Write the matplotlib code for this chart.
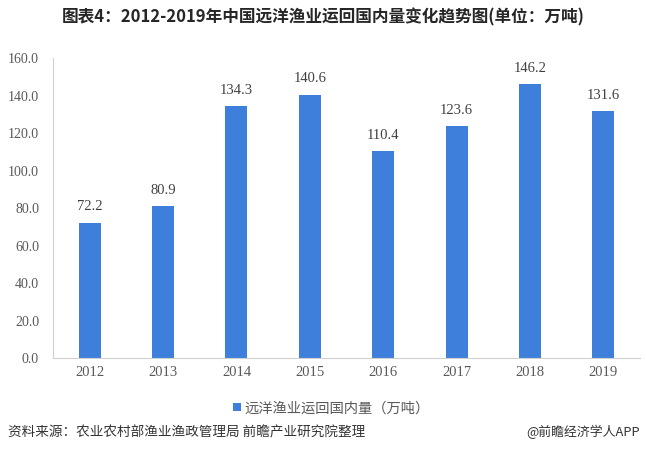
import matplotlib.pyplot as plt
from matplotlib.patches import Patch

years = ["2012", "2013", "2014", "2015", "2016", "2017", "2018", "2019"]
volume = [72.2, 80.9, 134.3, 140.6, 110.4, 123.6, 146.2, 131.6]
yticks = [0, 20, 40, 60, 80, 100, 120, 140, 160]

cjk = ["Noto Sans CJK SC", "DejaVu Sans"]
serif = ["Liberation Serif", "DejaVu Serif"]
bar_color = "#3D7FDA"
text_color = "#595959"

fig = plt.figure(figsize=(6.46, 4.51), dpi=100)
ax = fig.add_axes([0.082, 0.206, 0.909, 0.665])

x = range(len(years))
ax.bar(x, volume, width=0.3, color=bar_color, zorder=2)
for i, v in zip(x, volume):
    ax.text(i, v + 5, f"{v:.1f}", ha="center", va="bottom",
            fontsize=10.5, family=serif, color="#404040")

ax.set_xlim(-0.5, len(years) - 0.5)
ax.set_ylim(0, 160)
ax.set_yticks(yticks)
ax.set_yticklabels([f"{t:.1f}" for t in yticks], family=serif, fontsize=10, color=text_color)
ax.set_xticks(list(x))
ax.set_xticklabels(years, family=serif, fontsize=10.5, color=text_color)
ax.tick_params(axis="y", length=0, pad=10)
ax.tick_params(axis="x", length=0, pad=6)
for s in ["top", "right"]:
    ax.spines[s].set_visible(False)
ax.spines["left"].set_color("#d0d0d0")
ax.spines["bottom"].set_color("#d0d0d0")

fig.text(0.5, 0.962, "图表4：2012-2019年中国远洋渔业运回国内量变化趋势图(单位：万吨)",
         ha="center", va="center", fontsize=12, fontweight="bold",
         family=cjk, color="#262626")

handle = [Patch(facecolor=bar_color, label="远洋渔业运回国内量（万吨）")]
fig.legend(handles=handle, loc="center", bbox_to_anchor=(0.513, 0.095),
           frameon=False, prop={"family": cjk, "size": 10.3},
           handlelength=0.55, handleheight=0.55, handletextpad=0.3,
           labelcolor=text_color)

fig.text(0.012, 0.042, "资料来源：农业农村部渔业渔政管理局 前瞻产业研究院整理",
         ha="left", va="center", fontsize=9.8, family=cjk, color="#333333")
fig.text(0.991, 0.042, "@前瞻经济学人APP", ha="right", va="center",
         fontsize=9.3, family=cjk, color="#333333")

fig.savefig("out.png", dpi=100)
